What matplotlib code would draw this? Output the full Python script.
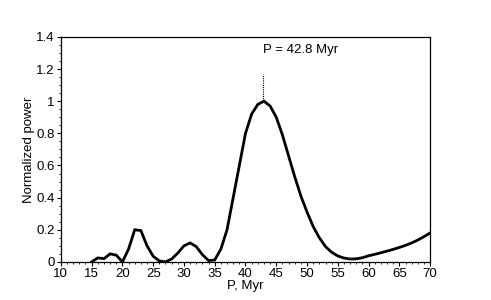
import matplotlib
matplotlib.use('Agg')
import matplotlib.pyplot as plt
from matplotlib.ticker import MultipleLocator

plt.rcParams['font.family'] = ['Liberation Sans', 'DejaVu Sans']

# period (Myr) and normalized power
period = list(range(15, 71))
power = [0.0, 0.025, 0.02, 0.05, 0.042, 0.0, 0.08, 0.2, 0.195, 0.1,
         0.035, 0.006, 0.0, 0.018, 0.055, 0.1, 0.118, 0.095, 0.045, 0.008,
         0.012, 0.08, 0.2, 0.4, 0.6, 0.8, 0.92, 0.98, 1.0, 0.97,
         0.9, 0.79, 0.66, 0.53, 0.41, 0.31, 0.22, 0.15, 0.095, 0.06,
         0.037, 0.024, 0.018, 0.019, 0.026, 0.038, 0.047, 0.057, 0.067, 0.078,
         0.09, 0.103, 0.118, 0.136, 0.157, 0.18]
peak_period = 42.8
peak_label = 'P = 42.8 Myr'
x_ticks = list(range(10, 71, 5))
y_ticks = [0, 0.2, 0.4, 0.6, 0.8, 1, 1.2, 1.4]
y_tick_labels = ['0', '0.2', '0.4', '0.6', '0.8', '1', '1.2', '1.4']

fig = plt.figure(figsize=(4.91, 3.0), dpi=100)
ax = fig.add_axes([0.124, 0.127, 0.752, 0.75])

ax.plot(period, power, color='black', lw=2.0, solid_joinstyle='miter')
ax.plot([peak_period, peak_period], [1.0, 1.17], color='black', lw=0.8, ls=(0, (1, 1)))
ax.text(peak_period, 1.32, peak_label, ha='left', va='center', fontsize=9.5)

ax.set_xlim(10, 70)
ax.set_ylim(0, 1.4)
ax.set_xticks(x_ticks)
ax.set_yticks(y_ticks)
ax.set_yticklabels(y_tick_labels)
ax.xaxis.set_minor_locator(MultipleLocator(1))
ax.yaxis.set_minor_locator(MultipleLocator(0.05))
ax.tick_params(which='major', direction='out', length=3, width=0.8, labelsize=9.5, pad=1.5)
ax.tick_params(which='minor', direction='out', length=1.5, width=0.6)
for s in ax.spines.values():
    s.set_linewidth(0.9)

ax.set_xlabel('P, Myr', fontsize=9.5, labelpad=0)
ax.set_ylabel('Normalized power', fontsize=9.5, labelpad=1)

fig.savefig('out.png', dpi=100)
